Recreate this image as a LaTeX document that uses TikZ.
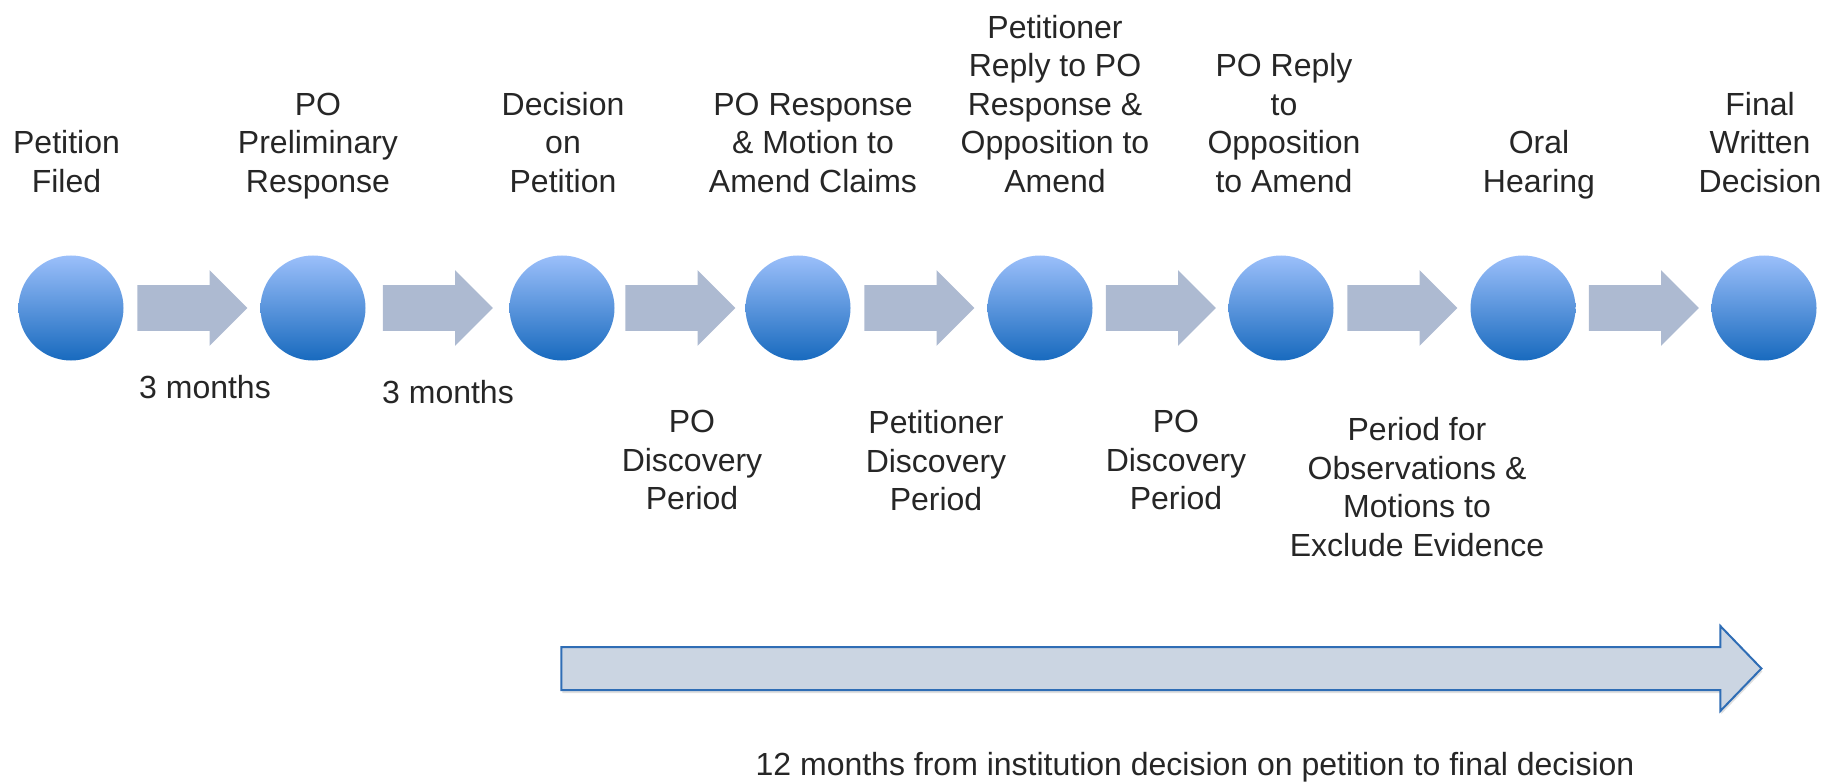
\documentclass[tikz,border=0pt]{standalone}
\usepackage{fontspec}
\setmainfont{Liberation Sans}
\usetikzlibrary{calc,positioning,shapes.arrows,shadows}
\definecolor{balltop}{RGB}{155,191,250}
\definecolor{ballbottom}{RGB}{24,106,190}
\definecolor{hopgray}{RGB}{173,186,209}
\definecolor{spanfill}{RGB}{203,213,226}
\definecolor{spanline}{RGB}{47,109,181}
\definecolor{inkgray}{RGB}{38,38,38}

\begin{document}
\begin{tikzpicture}[x=0.5pt,y=0.5pt,node distance=69pt,
	every node/.style={text=inkgray,font=\fontsize{16}{19.25}\selectfont},
	stage/.style={circle,minimum size=52.5pt,inner sep=0pt,outer sep=0pt,top color=balltop,bottom color=ballbottom},
	hop/.style={single arrow,minimum height=55pt,minimum width=37.5pt,single arrow head extend=7.5pt,single arrow tip angle=90,
		inner sep=0pt,text height=22.5pt,text depth=0pt,fill=hopgray,xshift=-5.5pt},
	event/.style={align=center,inner sep=0pt,text depth=0pt},
	period/.style={align=center,inner sep=0pt,anchor=north}]
	\useasboundingbox (0,0) rectangle (1824,783);
	% stages
	\node[stage] (filed) at (71,475) {};
	\node[stage,right=68.5pt of filed] (prelim) {};
	\node[stage,right=72pt of prelim] (decide) {};
	\node[stage,right=65.5pt of decide] (response) {};
	\node[stage,right=68.5pt of response] (reply) {};
	\node[stage,right=68pt of reply] (poreply) {};
	\node[stage,right=68.5pt of poreply] (hearing) {};
	\node[stage,right=68pt of hearing] (final) {};
	%
	\node[event,above=31.5pt of filed,xshift=-2.25pt] (filed_t) {Petition\\Filed};
	\node[event,above=31.5pt of prelim,xshift=2.5pt] (prelim_t) {PO\\Preliminary\\Response};
	\node[event,above=31.5pt of decide,xshift=0.5pt] (decide_t) {Decision\\on\\Petition};
	\node[event,above=31.5pt of response,xshift=7.5pt] (response_t) {PO Response\\\& Motion to\\Amend Claims};
	\node[event,above=31.5pt of reply,xshift=7.5pt] (reply_t) {Petitioner\\Reply to PO\\Response \&\\Opposition to\\Amend};
	\node[event,above=31.5pt of poreply,xshift=1.5pt] (poreply_t) {PO Reply\\to\\Opposition\\to Amend};
	\node[event,above=31.5pt of hearing,xshift=8pt] (hearing_t) {Oral\\Hearing};
	\node[event,above=31.5pt of final,xshift=-2pt] (final_t) {Final\\Written\\Decision};
	% steps between stages
	\node[hop] (hop1) at ($(filed)!0.5!(prelim)$) {};
	\node[hop] (hop2) at ($(prelim)!0.5!(decide)$) {};
	\node[hop] (hop3) at ($(decide)!0.5!(response)$) {};
	\node[hop] (hop4) at ($(response)!0.5!(reply)$) {};
	\node[hop] (hop5) at ($(reply)!0.5!(poreply)$) {};
	\node[hop] (hop6) at ($(poreply)!0.5!(hearing)$) {};
	\node[hop] (hop7) at ($(hearing)!0.5!(final)$) {};
	%
	\node[period] (hop1_b) at ($(hop1)+(24,-67)$) {3 months};
	\node[period] (hop2_b) at ($(hop2)+(21.5,-72)$) {3 months};
	\node[period] (hop3_b) at ($(hop3)+(23,-102)$) {PO\\Discovery\\Period};
	\node[period] (hop4_b) at ($(hop4)+(28,-102)$) {Petitioner\\Discovery\\Period};
	\node[period] (hop5_b) at ($(hop5)+(26.5,-102)$) {PO\\Discovery\\Period};
	\node[period] (hop6_b) at ($(hop6)+(26,-109)$) {Period for\\Observations \&\\Motions to\\Exclude Evidence};
	% twelve month span
	\coordinate (spanbase) at (0,114.5);
	\node[single arrow,minimum height=600pt,minimum width=41.5pt,single arrow head extend=10.5pt,single arrow tip angle=92,
		inner sep=0pt,text height=20.5pt,text depth=0pt,xshift=-6pt,
		fill=spanfill,draw=spanline,line width=1pt,drop shadow={shadow xshift=0.5pt,shadow yshift=-1.5pt,opacity=0.25}]
		(span) at ($(decide |- spanbase)!0.5!(final |- spanbase)$) {};
	\node[anchor=base,inner sep=0pt] (span_b) at (1195,8) {12 months from institution decision on petition to final decision};
\end{tikzpicture}
\end{document}
